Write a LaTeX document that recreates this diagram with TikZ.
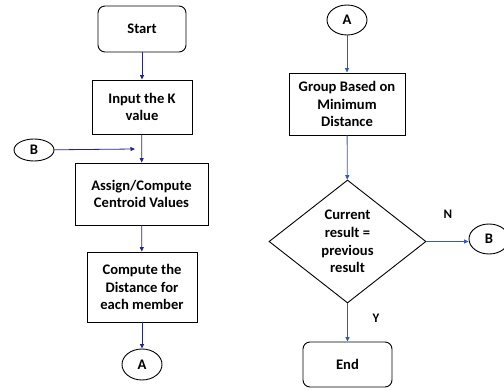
\documentclass[tikz,border=0pt]{standalone}
\usepackage{fontspec}
\setmainfont{Carlito}
\usetikzlibrary{arrows.meta,shapes.geometric}
\definecolor{lnavy}{RGB}{35,35,140}
\definecolor{rblue}{RGB}{50,90,185}
\begin{document}
\begin{tikzpicture}[x=1pt,y=-1pt,
  every node/.style={font=\bfseries\fontsize{14.6}{17.8}\selectfont, align=center, inner sep=0pt, line width=0.9pt},
  procbox/.style={draw, rectangle},
  termbox/.style={draw, rectangle, rounded corners=7pt},
  conn/.style={draw, ellipse},
  decbox/.style={draw, diamond},
  larrow/.style={draw=lnavy, line width=0.8pt, -{Triangle[length=4.5pt,width=4pt]}},
  rarrow/.style={draw=rblue, line width=0.8pt, -{Triangle[length=4.5pt,width=4pt]}},
  lbl/.style={font=\bfseries\fontsize{13}{15}\selectfont}
]
\useasboundingbox (0,0) rectangle (504,390);
% left column
\node[termbox, minimum width=88pt, minimum height=46pt] (start) at (142,29) {Start};
\node[procbox, minimum width=100pt, minimum height=54pt] (input) at (142,107) {Input the K\\value};
\node[procbox, minimum width=133pt, minimum height=62pt] (assign) at (141.5,194) {Assign/Compute\\Centroid Values};
\node[procbox, minimum width=110pt, minimum height=70pt] (dist) at (142,287) {Compute the\\Distance for\\each member};
\node[conn, minimum width=40pt, minimum height=31pt] (A1) at (142,364.5) {A};
\node[conn, minimum width=40pt, minimum height=22pt] (B1) at (34,150) {B};
\coordinate (merge) at (135,149);
\draw[larrow] (start) -- (input);
\draw[larrow] (input) -- (assign);
\draw[larrow] (assign) -- (dist);
\draw[larrow] (dist) -- (A1);
\draw[larrow] (B1) -- (merge);
% right column
\node[conn, minimum width=40pt, minimum height=30pt] (A2) at (347,20) {A};
\node[procbox, minimum width=116pt, minimum height=62pt] (group) at (347,104) {Group Based on\\Minimum\\Distance};
\node[decbox, minimum width=157pt, minimum height=123pt, aspect=1.28] (dec) at (347.5,241.5) {Current\\result =\\previous\\result};
\node[conn, minimum width=40pt, minimum height=30pt] (B2) at (489,239) {B};
\node[termbox, minimum width=89pt, minimum height=45pt] (end) at (347.5,364.5) {End};
\draw[rarrow] (A2) -- (group);
\draw[rarrow] (group) -- (dec);
\draw[rarrow] (dec.east) -- (B2.west |- dec.east);
\draw[rarrow] (dec) -- (end);
\node[lbl] (N) at (448,214) {N};
\node[lbl] (Y) at (376,318) {Y};
\end{tikzpicture}
\end{document}
